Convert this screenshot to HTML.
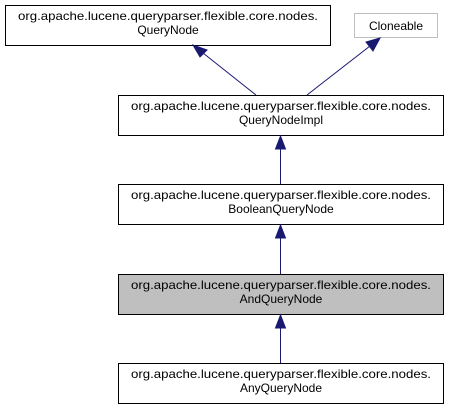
<!DOCTYPE html>
<html><head><style>html,body{margin:0;padding:0;background:#fff}svg{display:block}</style></head>
<body>
<svg width="449" height="409" viewBox="0 0 449 409" xmlns="http://www.w3.org/2000/svg" font-family="Liberation Sans, sans-serif" font-size="12">
<g fill="#fff" stroke="#000" stroke-width="1">
<rect x="5.5" y="5.5" width="325" height="40"/>
<rect x="354.5" y="13.5" width="83" height="24" stroke="#bfbfbf"/>
<rect x="118.5" y="95.5" width="325" height="40"/>
<rect x="118.5" y="184.5" width="325" height="40"/>
<rect x="118.5" y="274.5" width="325" height="40" fill="#bfbfbf"/>
<rect x="118.5" y="363.5" width="325" height="40"/>
</g>
<g text-anchor="middle" fill="#000">
<text x="168" y="20" textLength="300" lengthAdjust="spacingAndGlyphs">org.apache.lucene.queryparser.flexible.core.nodes.</text>
<text x="168" y="34">QueryNode</text>
<text x="396" y="30">Cloneable</text>
<text x="281" y="110" textLength="300" lengthAdjust="spacingAndGlyphs">org.apache.lucene.queryparser.flexible.core.nodes.</text>
<text x="281" y="124">QueryNodeImpl</text>
<text x="281" y="199" textLength="300" lengthAdjust="spacingAndGlyphs">org.apache.lucene.queryparser.flexible.core.nodes.</text>
<text x="281" y="213">BooleanQueryNode</text>
<text x="281" y="289" textLength="300" lengthAdjust="spacingAndGlyphs">org.apache.lucene.queryparser.flexible.core.nodes.</text>
<text x="281" y="303">AndQueryNode</text>
<text x="281" y="378" textLength="300" lengthAdjust="spacingAndGlyphs">org.apache.lucene.queryparser.flexible.core.nodes.</text>
<text x="281" y="392">AnyQueryNode</text>
</g>
<g stroke="#191970" fill="#191970" stroke-width="1">
<line x1="256" y1="95" x2="203" y2="53"/>
<polygon points="193,45 200,57 207,50"/>
<line x1="307" y1="95" x2="370" y2="46"/>
<polygon points="380,38 366,42 373,51"/>
<line x1="280.5" y1="184" x2="280.5" y2="147"/>
<polygon points="280.5,136 275.5,149 285.5,149"/>
<line x1="280.5" y1="274" x2="280.5" y2="236"/>
<polygon points="280.5,225 275.5,238 285.5,238"/>
<line x1="280.5" y1="363" x2="280.5" y2="326"/>
<polygon points="280.5,315 275.5,328 285.5,328"/>
</g>
</svg>
</body></html>
